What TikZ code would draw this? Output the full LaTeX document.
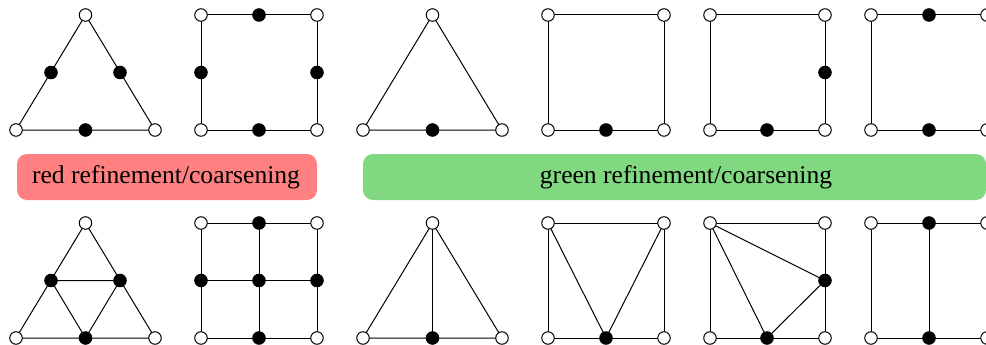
\documentclass[tikz,border=0pt]{standalone}
\usepackage{fontspec}
\setmainfont{Liberation Serif}
\usetikzlibrary{backgrounds}
\definecolor{redband}{HTML}{FF8080}
\definecolor{greenband}{HTML}{80D880}
\tikzset{
  x=1pt,y=-1pt,
  wn/.style={circle,draw=black,fill=white,line width=1pt,inner sep=0pt,minimum size=12.5pt},
  bn/.style={circle,draw=black,fill=black,line width=1pt,inner sep=0pt,minimum size=12.5pt},
  band/.style={rounded corners=10pt,inner sep=0pt,minimum height=46pt,text=black,font=\fontsize{25.6pt}{28pt}\selectfont},
  edge/.style={draw=black,line width=1pt}
}
\begin{document}
\begin{tikzpicture}
\clip (0,0) rectangle (986,345);
\useasboundingbox (0,0) rectangle (986,345);
% bands
\node[band,fill=redband,minimum width=300pt] (redb) at (167,177) {\hspace*{-2pt}\raisebox{-1.5pt}{red refinement/coarsening}};
\node[band,fill=greenband,minimum width=623pt] (greenb) at (674.5,177) {\hspace*{23pt}\raisebox{-1.5pt}{green refinement/coarsening}};
% --- top row ---
% T1
\node[wn] (a1) at (85.5,15) {}; \node[wn] (a2) at (16,130) {}; \node[wn] (a3) at (155,130) {};
\node[bn] (a4) at (51,72.5) {}; \node[bn] (a5) at (120,72.5) {}; \node[bn] (a6) at (85.5,130) {};
% S1
\node[wn] (b1) at (201,15) {}; \node[wn] (b2) at (317,15) {}; \node[wn] (b3) at (201,130) {}; \node[wn] (b4) at (317,130) {};
\node[bn] (b5) at (259,15) {}; \node[bn] (b6) at (201,72.5) {}; \node[bn] (b7) at (317,72.5) {}; \node[bn] (b8) at (259,130) {};
% T2
\node[wn] (c1) at (432.5,15) {}; \node[wn] (c2) at (363,130) {}; \node[wn] (c3) at (502,130) {}; \node[bn] (c4) at (432.5,130) {};
% S2
\node[wn] (d1) at (548,15) {}; \node[wn] (d2) at (664,15) {}; \node[wn] (d3) at (548,130) {}; \node[wn] (d4) at (664,130) {}; \node[bn] (d5) at (606,130) {};
% S3
\node[wn] (e1) at (710,15) {}; \node[wn] (e2) at (825,15) {}; \node[wn] (e3) at (710,130) {}; \node[wn] (e4) at (825,130) {};
\node[bn] (e5) at (767,130) {}; \node[bn] (e6) at (825,72.5) {};
% S4
\node[wn] (f1) at (871,15) {}; \node[wn] (f2) at (987,15) {}; \node[wn] (f3) at (871,130) {}; \node[wn] (f4) at (987,130) {};
\node[bn] (f5) at (929,15) {}; \node[bn] (f6) at (929,130) {};
% --- bottom row ---
\node[wn] (g1) at (85.5,223) {}; \node[wn] (g2) at (16,338) {}; \node[wn] (g3) at (155,338) {};
\node[bn] (g4) at (51,280.5) {}; \node[bn] (g5) at (120,280.5) {}; \node[bn] (g6) at (85.5,338) {};
\node[wn] (h1) at (201,223) {}; \node[wn] (h2) at (317,223) {}; \node[wn] (h3) at (201,338) {}; \node[wn] (h4) at (317,338) {};
\node[bn] (h5) at (259,223) {}; \node[bn] (h6) at (201,280.5) {}; \node[bn] (h7) at (317,280.5) {}; \node[bn] (h8) at (259,338) {}; \node[bn] (h9) at (259,280.5) {};
\node[wn] (i1) at (432.5,223) {}; \node[wn] (i2) at (363,338) {}; \node[wn] (i3) at (502,338) {}; \node[bn] (i4) at (432.5,338) {};
\node[wn] (j1) at (548,223) {}; \node[wn] (j2) at (664,223) {}; \node[wn] (j3) at (548,338) {}; \node[wn] (j4) at (664,338) {}; \node[bn] (j5) at (606,338) {};
\node[wn] (k1) at (710,223) {}; \node[wn] (k2) at (825,223) {}; \node[wn] (k3) at (710,338) {}; \node[wn] (k4) at (825,338) {};
\node[bn] (k5) at (767,338) {}; \node[bn] (k6) at (825,280.5) {};
\node[wn] (l1) at (871,223) {}; \node[wn] (l2) at (987,223) {}; \node[wn] (l3) at (871,338) {}; \node[wn] (l4) at (987,338) {};
\node[bn] (l5) at (929,223) {}; \node[bn] (l6) at (929,338) {};
\begin{scope}[on background layer]
\draw[edge] (a1.center)--(a2.center)--(a3.center)--cycle;
\draw[edge] (b1.center)--(b2.center)--(b4.center)--(b3.center)--cycle;
\draw[edge] (c1.center)--(c2.center)--(c3.center)--cycle;
\draw[edge] (d1.center)--(d2.center)--(d4.center)--(d3.center)--cycle;
\draw[edge] (e1.center)--(e2.center)--(e4.center)--(e3.center)--cycle;
\draw[edge] (f1.center)--(f2.center)--(f4.center)--(f3.center)--cycle;
\draw[edge] (g1.center)--(g2.center)--(g3.center)--cycle;
\draw[edge] (g4.center)--(g5.center)--(g6.center)--cycle;
\draw[edge] (h1.center)--(h2.center)--(h4.center)--(h3.center)--cycle;
\draw[edge] (h5.center)--(h8.center);
\draw[edge] (h6.center)--(h7.center);
\draw[edge] (i1.center)--(i2.center)--(i3.center)--cycle;
\draw[edge] (i1.center)--(i4.center);
\draw[edge] (j1.center)--(j2.center)--(j4.center)--(j3.center)--cycle;
\draw[edge] (j1.center)--(j5.center)--(j2.center);
\draw[edge] (k1.center)--(k2.center)--(k4.center)--(k3.center)--cycle;
\draw[edge] (k1.center)--(k5.center)--(k6.center)--cycle;
\draw[edge] (l1.center)--(l2.center)--(l4.center)--(l3.center)--cycle;
\draw[edge] (l5.center)--(l6.center);
\end{scope}
\end{tikzpicture}
\end{document}
